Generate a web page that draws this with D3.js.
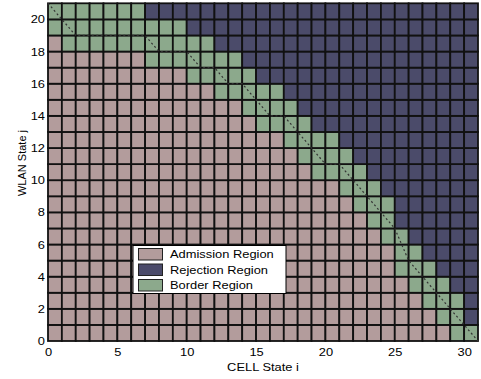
<!DOCTYPE html>
<html>
<head>
<meta charset="utf-8">
<style>
  html, body { margin: 0; padding: 0; background: #fff; }
  text { font-family: Arial, 'Liberation Sans', sans-serif; fill: #000; }
  .axis text { font-size: 11px; }
  .axis path, .axis line { display: none; }
</style>
</head>
<body>
<svg id="chart" width="481" height="379"></svg>
<script src="https://d3js.org/d3.v7.min.js"></script>
<script>
// WLAN state rows j = 0..20, CELL state columns i = 0..30
var cellStates = d3.range(0, 31);
var wlanStates = d3.range(0, 21);

// per row j: last CELL state in the admission region, last in the border region
var admitMax  = [28, 27, 26, 25, 24, 24, 23, 22, 21, 20, 18, 17, 16, 14, 13, 11, 9, 6, 0, -1, -1];
var borderMax = [30, 29, 29, 28, 27, 26, 25, 24, 24, 23, 22, 21, 20, 18, 17, 16, 14, 13, 11, 9, 6];

// dotted boundary curve
var curveX = [0, 2, 7, 8, 10, 11, 12, 13, 14, 16, 17, 20, 21, 25, 26, 31];
var curveY = [21, 19, 19, 18, 18, 17, 17, 16, 16, 14, 14, 11, 11, 7, 5, 0];

var xTicks = [0, 5, 10, 15, 20, 25, 30];
var yTicks = [0, 2, 4, 6, 8, 10, 12, 14, 16, 18, 20];

var regions = ["Admission Region", "Rejection Region", "Border Region"];
var regionColors = ["#b39c9c", "#4b4b6a", "#8ca98c"];

var svg = d3.select("#chart");
var stretch = 1.17;

var x = d3.scaleLinear().domain([0, 31]).range([48, 478]);
var y = d3.scaleLinear().domain([0, 21]).range([341, 3.3]);
var color = d3.scaleOrdinal().domain(regions).range(regionColors);

var cells = [];
wlanStates.forEach(function(j) {
    cellStates.forEach(function(i) {
        var r = i <= admitMax[j] ? regions[0] : (i <= borderMax[j] ? regions[2] : regions[1]);
        cells.push({i: i, j: j, region: r});
    });
});

svg.append("g")
    .selectAll("rect")
    .data(cells)
    .enter().append("rect")
    .attr("x", function(d) { return x(d.i); })
    .attr("y", function(d) { return y(d.j + 1); })
    .attr("width", function(d) { return x(d.i + 1) - x(d.i); })
    .attr("height", function(d) { return y(d.j) - y(d.j + 1); })
    .attr("fill", function(d) { return color(d.region); })
    .attr("stroke", "#111")
    .attr("stroke-width", 1.8);

var line = d3.line()
    .x(function(d) { return x(d[0]); })
    .y(function(d) { return y(d[1]); });

svg.append("path")
    .datum(d3.zip(curveX, curveY))
    .attr("d", line)
    .attr("fill", "none")
    .attr("stroke", "#333")
    .attr("stroke-width", 1.2)
    .attr("stroke-dasharray", "2,2.5");

var xAxis = svg.append("g")
    .attr("class", "axis")
    .attr("transform", "translate(0,341)")
    .call(d3.axisBottom(x).tickValues(xTicks).tickSize(0).tickPadding(7));
xAxis.selectAll("text").attr("transform", "scale(" + stretch + ",1)");

var yAxis = svg.append("g")
    .attr("class", "axis")
    .attr("transform", "translate(48,0)")
    .call(d3.axisLeft(y).tickValues(yTicks).tickSize(0).tickPadding(2.6));
yAxis.selectAll("text").attr("transform", "scale(" + stretch + ",1)");

svg.append("text")
    .attr("transform", "translate(263,370.5) scale(" + stretch + ",1)")
    .attr("text-anchor", "middle")
    .style("font-size", "11px")
    .text("CELL State i");

svg.append("text")
    .attr("transform", "translate(26,163) rotate(-90)")
    .attr("text-anchor", "middle")
    .style("font-size", "11px")
    .text("WLAN State j");

// legend
var legend = svg.append("g").attr("transform", "translate(133,245.5)");
legend.append("rect")
    .attr("width", 153).attr("height", 48)
    .attr("fill", "#fff").attr("stroke", "#000").attr("stroke-width", 1);

var item = legend.selectAll("g.item")
    .data(regions)
    .enter().append("g")
    .attr("class", "item")
    .attr("transform", function(d, k) { return "translate(0," + (3 + k * 15.5) + ")"; });

item.append("rect")
    .attr("x", 5.5).attr("y", 0)
    .attr("width", 24).attr("height", 11.5)
    .attr("fill", function(d) { return color(d); })
    .attr("stroke", "#222").attr("stroke-width", 1);

item.append("text")
    .attr("transform", "translate(37,9.8) scale(" + stretch + ",1)")
    .style("font-size", "11px")
    .text(function(d) { return d; });
</script>
</body>
</html>
